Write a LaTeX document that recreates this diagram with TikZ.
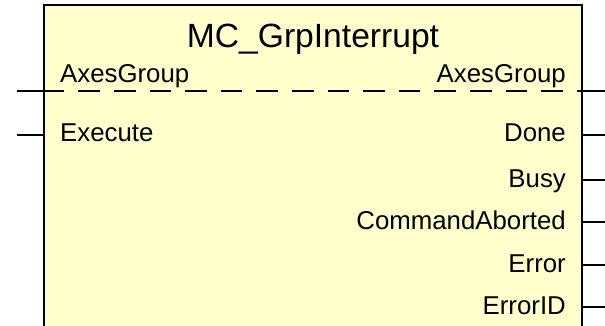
\documentclass[tikz,border=0pt]{standalone}
\usepackage{fontspec}
\setmainfont{Liberation Sans}
\usepackage{xcolor}
\definecolor{fbbg}{RGB}{255,255,204}

\begin{document}
\begin{tikzpicture}[x=1pt, y=-1pt,
    pinlbl/.style={inner sep=0pt, font=\fontsize{25.8}{30}\selectfont},
    pinline/.style={line width=2pt}]
  \clip (0,0) rectangle (605,326);
  % function block body, open towards the bottom
  \node[draw, line width=2.6pt, fill=fbbg, minimum width=538pt, minimum height=342pt, inner sep=0pt] (fb) at (313,176) {};
  \node[anchor=base, inner sep=0pt, font=\fontsize{33.6}{38}\selectfont] (title) at (313,48) {MC\_GrpInterrupt};

  % in/out group reference
  \node[pinlbl, anchor=base west] (axin) at (60,83) {AxesGroup};
  \node[pinlbl, anchor=base east] (axout) at (566,83) {AxesGroup};
  \coordinate (axl) at (17,91);
  \coordinate (axr) at (610,91);
  \draw[pinline] (axl) -- (axl -| fb.west);
  \draw[pinline, dash pattern=on 21.7pt off 13.9pt] (axl -| fb.west) -- (axr -| fb.east);
  \draw[pinline] (axr -| fb.east) -- (axr);

  % inputs
  \node[pinlbl, anchor=base west] (exec) at (60,142) {Execute};
  \coordinate (execpin) at (17,135);
  \draw[pinline] (execpin) -- (execpin -| fb.west);

  % outputs
  \node[pinlbl, anchor=base east] (done) at (566,142) {Done};
  \node[pinlbl, anchor=base east] (busy) at (566,187) {Busy};
  \node[pinlbl, anchor=base east] (cmdab) at (566,229) {CommandAborted};
  \node[pinlbl, anchor=base east] (err) at (566,272) {Error};
  \node[pinlbl, anchor=base east] (errid) at (566,314) {ErrorID};
  \foreach \o/\y in {done/135, busy/180, cmdab/222, err/265, errid/307} {
    \coordinate (\o pin) at (610,\y);
    \draw[pinline] (\o pin -| fb.east) -- (\o pin);
  }
\end{tikzpicture}
\end{document}
